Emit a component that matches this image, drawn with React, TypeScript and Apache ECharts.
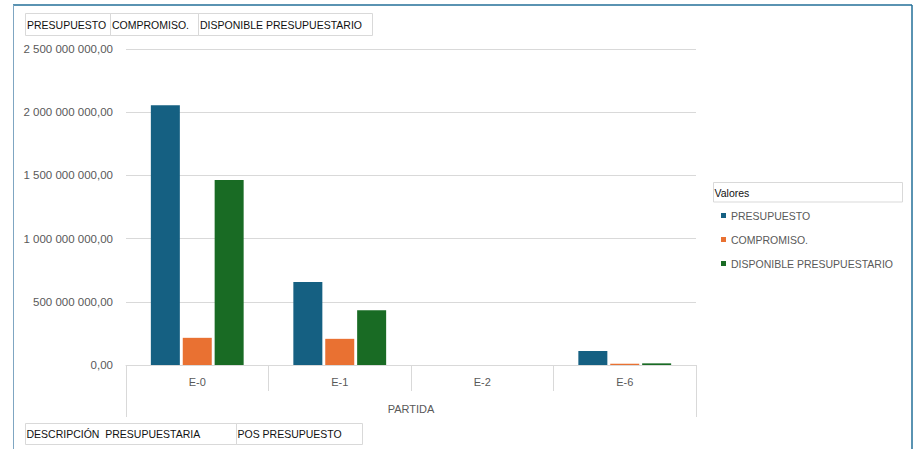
import React, { useEffect, useRef } from "react";
import * as echarts from "echarts";

const categories = ["E-0", "E-1", "E-2", "E-6"];
const presupuesto = [2055000000, 657000000, 0, 111000000];
const compromiso = [215000000, 207000000, 0, 10000000];
const disponible = [1463000000, 434000000, 0, 13000000];
const seriesNames = ["PRESUPUESTO", "COMPROMISO.", "DISPONIBLE PRESUPUESTARIO"];
const colors = ["#156082", "#E97132", "#196B24"];
const topFields = ["PRESUPUESTO", "COMPROMISO.", "DISPONIBLE PRESUPUESTARIO"];
const bottomFields = ["DESCRIPCIÓN  PRESUPUESTARIA", "POS PRESUPUESTO"];

const FONT = "'Liberation Sans', Arial, sans-serif";

function fmt(v: number): string {
  const s = Math.round(v).toString();
  const parts: string[] = [];
  for (let i = s.length; i > 0; i -= 3) parts.unshift(s.substring(Math.max(0, i - 3), i));
  return parts.join(" ") + ",00";
}

export default function App() {
  const ref = useRef<HTMLDivElement>(null);
  useEffect(() => {
    if (!ref.current) return;
    const chart = echarts.init(ref.current, undefined, { renderer: "svg" });
    const cellText = (x: number, y: number, t: string) => ({
      type: "text",
      x,
      y,
      style: { text: t, fill: "#111", font: `10.5px ${FONT}`, textVerticalAlign: "middle" },
    });
    const cellRect = (x: number, y: number, w: number, h: number) => ({
      type: "rect",
      shape: { x, y, width: w, height: h },
      style: { fill: "none", stroke: "#d9d9d9", lineWidth: 1 },
    });
    const topX = [25.5, 110.5, 198.5, 372.5];
    const botX = [25.5, 236.5, 362.5];
    const graphics: any[] = [
      { type: "line", shape: { x1: 13, y1: 5, x2: 912, y2: 5 }, style: { stroke: "#236f98", lineWidth: 1.5 } },
      { type: "line", shape: { x1: 912, y1: 5, x2: 912, y2: 449 }, style: { stroke: "#236f98", lineWidth: 1.5 } },
      { type: "line", shape: { x1: 13.5, y1: 5, x2: 13.5, y2: 449 }, style: { stroke: "#7fa6c2", lineWidth: 1 } },
    ];
    for (let i = 0; i < topFields.length; i++) {
      graphics.push(cellRect(topX[i], 13.5, topX[i + 1] - topX[i], 22));
      graphics.push(cellText(topX[i] + 1.5, 24.5, topFields[i]));
    }
    for (let i = 0; i < bottomFields.length; i++) {
      graphics.push(cellRect(botX[i], 423.5, botX[i + 1] - botX[i], 21));
      graphics.push(cellText(botX[i] + 1, 434, bottomFields[i]));
    }
    graphics.push(cellRect(713.5, 182.5, 189, 19.5));
    graphics.push(cellText(714.5, 192.5, "Valores"));

    chart.setOption({
      animation: false,
      textStyle: { fontFamily: FONT },
      grid: { left: 126, right: 221, top: 49, bottom: 84, containLabel: false },
      legend: {
        orient: "vertical",
        left: 716,
        top: 205,
        icon: "rect",
        itemWidth: 5,
        itemHeight: 5,
        itemGap: 13,
        selectedMode: false,
        textStyle: { color: "#595959", fontSize: 10.5, fontFamily: FONT },
        data: seriesNames,
      },
      xAxis: [
        {
          type: "category",
          data: categories,
          name: "PARTIDA",
          nameLocation: "middle",
          nameGap: 38,
          nameTextStyle: { color: "#595959", fontSize: 11, fontFamily: FONT },
          axisLine: { lineStyle: { color: "#d9d9d9", width: 1 } },
          axisTick: { show: true, length: 26, lineStyle: { color: "#d9d9d9", width: 1 } },
          axisLabel: { color: "#595959", fontSize: 11, margin: 11, fontFamily: FONT },
        },
        {
          type: "category",
          data: [""],
          position: "bottom",
          axisLine: { show: false },
          axisTick: { show: true, length: 52, lineStyle: { color: "#d9d9d9", width: 1 } },
          axisLabel: { show: false },
        },
      ],
      yAxis: {
        type: "value",
        min: 0,
        max: 2500000000,
        interval: 500000000,
        axisLine: { show: false },
        axisTick: { show: false },
        splitLine: { lineStyle: { color: "#d9d9d9", width: 1 } },
        axisLabel: { color: "#595959", fontSize: 11.5, margin: 13, formatter: (v: number) => fmt(v), fontFamily: FONT },
      },
      series: [
        { name: seriesNames[0], type: "bar", data: presupuesto, barWidth: 29, barGap: "10%", itemStyle: { color: colors[0] } },
        { name: seriesNames[1], type: "bar", data: compromiso, barWidth: 29, barGap: "10%", itemStyle: { color: colors[1] } },
        { name: seriesNames[2], type: "bar", data: disponible, barWidth: 29, barGap: "10%", itemStyle: { color: colors[2] } },
      ],
      graphic: graphics,
    });
    return () => chart.dispose();
  }, []);
  return <div ref={ref} style={{ position: "fixed", left: 0, top: 0, width: 917, height: 449, background: "#fff" }} />;
}
